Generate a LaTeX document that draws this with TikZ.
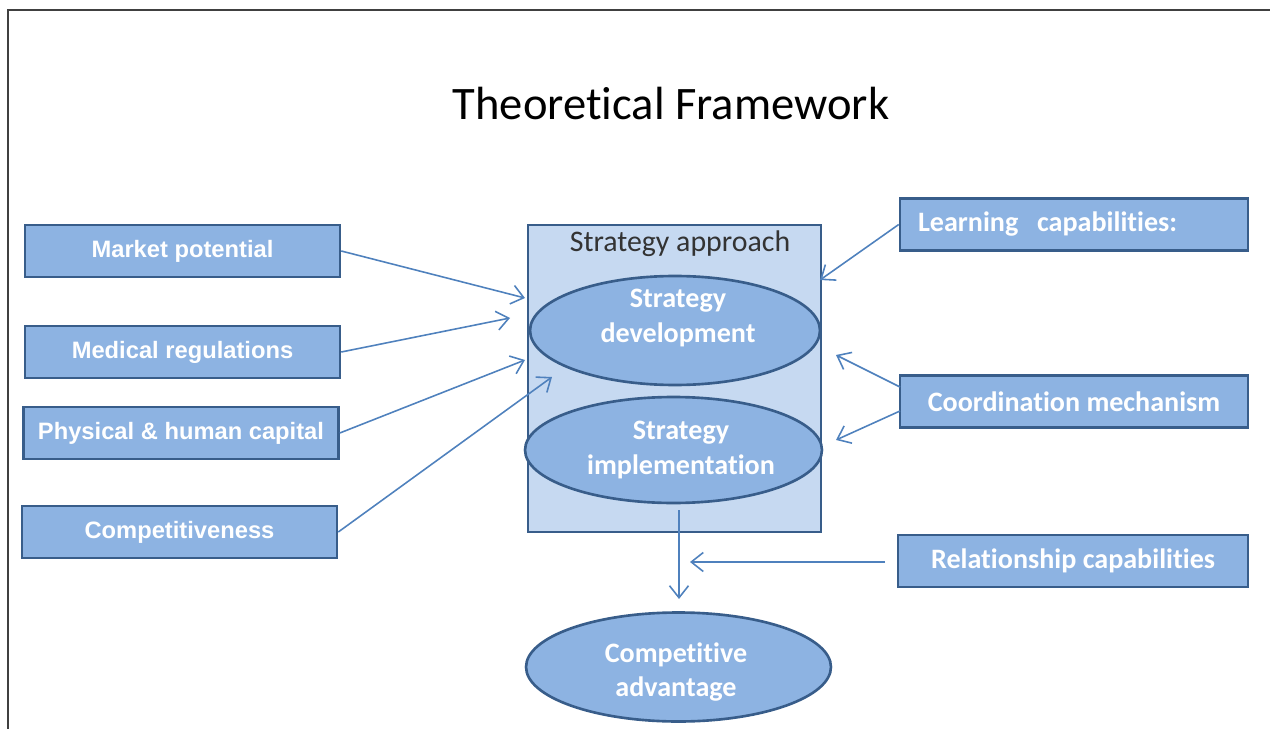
\documentclass[tikz,border=0pt]{standalone}
\usepackage{fontspec}
\setmainfont{Carlito}[Ligatures=NoCommon]
\newfontfamily\arialfont{Liberation Sans}
\usetikzlibrary{shapes.geometric}
\usetikzlibrary{arrows.meta}

\definecolor{boxfill}{HTML}{8DB3E2}
\definecolor{boxline}{HTML}{385D8A}
\definecolor{appfill}{HTML}{C6D9F1}
\definecolor{arrline}{HTML}{4F81BD}

\tikzset{
  factor/.style={draw=boxline,fill=boxfill,line width=1.5pt,minimum width=6.3cm,minimum height=1.04cm,
    text=white,font=\arialfont\bfseries\fontsize{13.5}{16}\selectfont},
  capab/.style={factor,minimum width=6.96cm,font=\bfseries\fontsize{16}{19}\selectfont},
  oval/.style={ellipse,draw=boxline,fill=boxfill,line width=1.5pt,inner sep=0pt},
  ovaltext/.style={text=white,align=center,font=\bfseries\fontsize{16}{19.5}\selectfont},
  link/.style={draw=arrline,line width=0.9pt,-{Straight Barb[length=2.4mm,width=3.8mm]}}
}

\begin{document}
\begin{tikzpicture}[x=0.02cm,y=-0.02cm]
\useasboundingbox (0,0) rectangle (1270,729);
\draw [line width=1pt,black!75] (8,729) -- (8,10) -- (1270,10);

\node[font=\fontsize{26.5}{32}\selectfont] (title) at (671,104) {Theoretical Framework};

% strategy block in the middle
\node[draw=boxline,fill=appfill,line width=1.5pt,minimum width=5.86cm,minimum height=6.14cm] (approach) at (674.5,378.5) {};
\node[font=\fontsize{17}{20}\selectfont,text=black!80] (aptitle) at (680,244) {Strategy approach};
\node[oval,minimum width=5.8cm,minimum height=2.18cm] (develop) at (675,330.5) {};
\node[ovaltext] (devtext) at (678,318) {Strategy\\development};
\node[oval,minimum width=5.94cm,minimum height=2.12cm] (implement) at (673.5,450) {};
\node[ovaltext] (impltext) at (681,450) {Strategy\\implementation};
\node[oval,minimum width=6.1cm,minimum height=2.18cm] (advantage) at (678.5,667) {};
\node[ovaltext] (advtext) at (676,672) {Competitive\\advantage};

% external factors
\node[factor] (market) at (182.5,251) {Market potential};
\node[factor] (medical) at (182.5,352) {Medical regulations};
\node[factor] (capital) at (181,433) {Physical \& human capital};
\node[factor] (compet) at (179.5,532) {Competitiveness};

% capabilities
\node[capab,text width=6.24cm,align=left] (learning) at (1074,224.5) {Learning~~capabilities:};
\node[capab] (coord) at (1074,401.5) {Coordination mechanism};
\node[capab,minimum width=7cm] (relation) at (1073,561) {Relationship capabilities};

\coordinate (inmarket) at (525,298);
\coordinate (inmedical) at (510,318);
\coordinate (incapital) at (525,360);
\coordinate (incompet) at (552,377);
\coordinate (inlearn) at (820,280);
\coordinate (coordup) at (900,387);
\coordinate (coorddown) at (900,411);
\coordinate (indevelop) at (836,355);
\coordinate (inimplement) at (836,440);
\coordinate (outimpl) at (679,510);
\coordinate (inadv) at (679,599);
\coordinate (relstart) at (885,562);
\coordinate (relend) at (690,562);

\draw [link] (market.east) -- (inmarket);
\draw [link] (medical.east) -- (inmedical);
\draw [link] (capital.east) -- (incapital);
\draw [link] (compet.east) -- (incompet);
\draw [link] (learning.west) -- (inlearn);
\draw [link] (coordup) -- (indevelop);
\draw [link] (coorddown) -- (inimplement);
\draw [link] (outimpl) -- (inadv);
\draw [link] (relstart) -- (relend);
\end{tikzpicture}
\end{document}
